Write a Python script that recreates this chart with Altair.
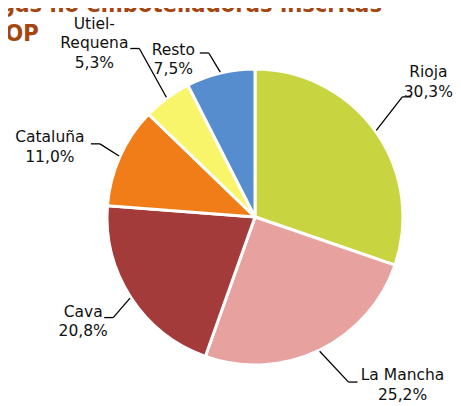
import altair as alt
import pandas as pd

# ---- data ----
categories = ["Rioja", "La Mancha", "Cava", "Cataluña", "Utiel-Requena", "Resto"]
label_lines = ["Rioja", "La Mancha", "Cava", "Cataluña", "Utiel-|Requena", "Resto"]
shares = [30.3, 25.2, 20.8, 11.0, 5.3, 7.5]
colors = ["#C9D441", "#E7A29F", "#A33B3A", "#F07D17", "#F9F56B", "#568DCE"]
title_line1 = ["Bodegas no embotelladoras inscritas"]
title_line2 = ["en DOP"]

# ---- layout constants (not data) ----
CX, CY = 247, 209      # pie centre (plot-area pixels)
R = 148                # pie radius
R_EDGE = 149           # leader start
R_ELBOW = 181          # leader elbow
HSEG = 9               # horizontal leader stub
TITLE_COLOR = "#A5450F"
# label placement (elbow dx, elbow dy, text dx, first-line dy), like Excel's label drag
LAYOUT = {
    "Rioja": (0, -15, 26, -24.5),
    "La Mancha": (15, 2, 54, -7),
    "Cava": (10, 2, -30, -6),
    "Cataluña": (10, 1, -50, -6.5),
    "Utiel-Requena": (-8, -23, -45, -25),
    "Resto": (-4, 12, -35.5, -3),
}

df = pd.DataFrame({
    "cat": categories,
    "lab": label_lines,
    "v": shares,
    "ord": list(range(len(categories))),
})
df["ndx"] = [LAYOUT[c][0] for c in categories]
df["ndy"] = [LAYOUT[c][1] for c in categories]
df["tdx"] = [LAYOUT[c][2] for c in categories]
df["tdy"] = [LAYOUT[c][3] for c in categories]

base = (
    alt.Chart(df)
    .transform_joinaggregate(total="sum(v)")
    .transform_window(cum="sum(v)", sort=[alt.SortField("ord")], frame=[None, 0])
    .transform_calculate(mid="2*PI*(datum.cum - datum.v/2)/datum.total")
    .transform_calculate(
        side="sin(datum.mid) >= 0 ? 1 : -1",
        sx=f"{CX} + {R_EDGE}*sin(datum.mid)",
        sy=f"{CY} - {R_EDGE}*cos(datum.mid)",
        ex=f"{CX} + {R_ELBOW}*sin(datum.mid) + datum.ndx",
        ey=f"{CY} - {R_ELBOW}*cos(datum.mid) + datum.ndy",
        pct="replace(format(datum.v, '.1f'), '.', ',') + '%'",
    )
    .transform_calculate(
        hx=f"datum.ex + datum.side*{HSEG}",
        tx="datum.ex + datum.tdx",
        ty="datum.ey + datum.tdy",
        txt="datum.lab + '|' + datum.pct",
    )
)

pie = alt.Chart(df).mark_arc(radius=R, stroke="white", strokeWidth=3).encode(
    theta=alt.Theta("v:Q", stack=True),
    order=alt.Order("ord:Q"),
    color=alt.Color("cat:N", scale=alt.Scale(domain=categories, range=colors), legend=None),
    x=alt.value(CX),
    y=alt.value(CY),
)

leader1 = base.mark_rule(color="black", strokeWidth=1.3).encode(
    x=alt.X("sx:Q", scale=None, axis=None),
    y=alt.Y("sy:Q", scale=None, axis=None),
    x2="ex:Q",
    y2="ey:Q",
)
leader2 = base.mark_rule(color="black", strokeWidth=1.3).encode(
    x=alt.X("ex:Q", scale=None, axis=None),
    y=alt.Y("ey:Q", scale=None, axis=None),
    x2="hx:Q",
    y2="ey:Q",
)

labels = base.mark_text(
    lineBreak="|", fontSize=15.5, font="DejaVu Sans", lineHeight=19.5,
    align="center", baseline="middle", color="#111111",
).encode(
    x=alt.X("tx:Q", scale=None, axis=None),
    y=alt.Y("ty:Q", scale=None, axis=None),
    text="txt:N",
)

t1 = alt.Chart(pd.DataFrame({"t": title_line1})).mark_text(
    align="left", baseline="alphabetic", fontSize=23.5, fontWeight="bold",
    font="DejaVu Sans Condensed", color=TITLE_COLOR,
).encode(text="t:N", x=alt.value(-68), y=alt.value(4))

t2 = alt.Chart(pd.DataFrame({"t": title_line2})).mark_text(
    align="left", baseline="alphabetic", fontSize=23.5, fontWeight="bold",
    font="DejaVu Sans Condensed", color=TITLE_COLOR,
).encode(text="t:N", x=alt.value(-57), y=alt.value(33))

chart = (
    alt.layer(pie, leader1, leader2, labels, t1, t2)
    .properties(width=445, height=396, autosize=alt.AutoSizeParams(type="none"), padding=0)
    .configure_view(stroke=None)
)

chart.save("out.html", embed_options={"renderer": "svg", "actions": False})
